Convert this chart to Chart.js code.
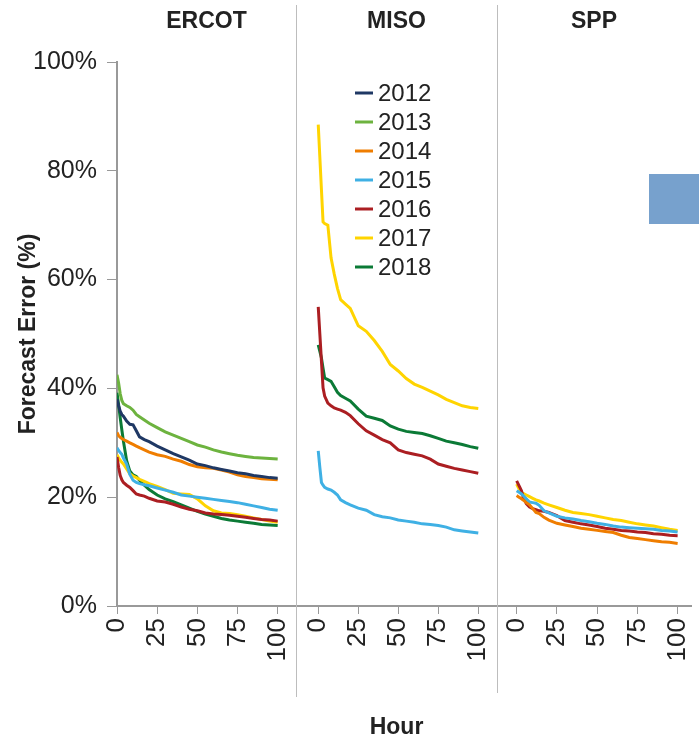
<!DOCTYPE html>
<html>
<head>
<meta charset="utf-8">
<script src="https://cdn.jsdelivr.net/npm/chart.js@4.4.1/dist/chart.umd.min.js"></script>
<style>
  body { margin: 0; background: #fff; width: 699px; height: 741px; overflow: hidden; position: relative; }
  .panel { position: absolute; top: 0; height: 741px; }
  .divider { position: absolute; width: 1px; background: #bdbdbd; }
  #badge { position: absolute; left: 649px; top: 174px; width: 50px; height: 50px; background: #77a1cd; }
</style>
</head>
<body>
<div class="panel" style="left:0;width:296px"><canvas id="ercot"></canvas></div>
<div class="panel" style="left:296px;width:201px"><canvas id="miso"></canvas></div>
<div class="panel" style="left:497px;width:202px"><canvas id="spp"></canvas></div>
<div class="divider" style="left:296px;top:5px;height:692px"></div>
<div class="divider" style="left:497px;top:5px;height:688px"></div>
<div id="badge"></div>
<script>
// hours (same grid for every line)
const hours = [0, 1, 2, 3, 4, 6, 8, 10, 12, 14, 17, 20, 25, 30, 35, 40, 45, 50, 55, 60, 65, 70, 75, 80, 85, 90, 95, 100];
const years = ['2012', '2013', '2014', '2015', '2016', '2017', '2018'];
const yearColors = ['#1f3864', '#6db33f', '#ef7d00', '#3fb0e4', '#ab1e22', '#ffd400', '#0b7a36'];
const hourTicks = [0, 25, 50, 75, 100];
const pctTicks = [0, 20, 40, 60, 80, 100];
const panelNames = ['ERCOT', 'MISO', 'SPP'];

// ERCOT, forecast error %
const ercot2012 = [38.0, 36.8, 35.8, 35.2, 34.9, 34.0, 33.4, 33.3, 32.2, 31.1, 30.6, 30.2, 29.4, 28.7, 28.0, 27.4, 26.8, 26.1, 25.8, 25.4, 25.1, 24.8, 24.5, 24.3, 24.0, 23.8, 23.6, 23.5];
const ercot2013 = [42.5, 41.0, 39.0, 37.8, 37.2, 36.8, 36.5, 36.0, 35.2, 34.8, 34.2, 33.6, 32.8, 32.0, 31.4, 30.8, 30.2, 29.6, 29.2, 28.7, 28.3, 28.0, 27.7, 27.5, 27.3, 27.2, 27.1, 27.0];
const ercot2014 = [31.9, 31.3, 31.0, 30.8, 30.6, 30.3, 30.0, 29.7, 29.4, 29.1, 28.7, 28.3, 27.8, 27.5, 27.0, 26.6, 26.0, 25.6, 25.4, 25.3, 25.0, 24.6, 24.1, 23.8, 23.6, 23.4, 23.3, 23.2];
const ercot2015 = [29.1, 28.6, 28.2, 27.9, 27.2, 26.1, 24.2, 23.1, 22.7, 22.5, 22.3, 22.1, 21.7, 21.3, 20.9, 20.4, 20.2, 20.0, 19.8, 19.6, 19.4, 19.2, 19.0, 18.7, 18.4, 18.1, 17.8, 17.6];
const ercot2016 = [27.4, 25.5, 24.0, 23.2, 22.7, 22.2, 21.8, 21.2, 20.6, 20.4, 20.2, 19.8, 19.3, 19.1, 18.7, 18.2, 17.8, 17.5, 17.1, 16.9, 16.8, 16.7, 16.5, 16.3, 16.1, 15.9, 15.8, 15.6];
const ercot2017 = [27.8, 27.2, 26.8, 26.4, 26.1, 25.2, 24.3, 23.9, 23.6, 23.3, 22.9, 22.5, 22.0, 21.4, 20.7, 20.6, 20.5, 19.7, 18.4, 17.5, 17.1, 17.0, 16.8, 16.5, 16.2, 15.9, 15.6, 15.4];
const ercot2018 = [39.2, 37.0, 34.6, 32.4, 30.3, 26.7, 24.8, 24.1, 23.8, 23.1, 22.2, 21.4, 20.4, 19.7, 19.2, 18.6, 18.0, 17.4, 16.9, 16.5, 16.1, 15.8, 15.6, 15.4, 15.2, 15.0, 14.9, 14.8];

// MISO
const miso2015 = [28.5, 25.5, 22.7, 22.2, 21.8, 21.5, 21.3, 20.9, 20.4, 19.5, 19.0, 18.6, 18.0, 17.6, 16.8, 16.4, 16.2, 15.8, 15.6, 15.4, 15.1, 15.0, 14.8, 14.5, 14.0, 13.8, 13.6, 13.4];
const miso2016 = [55.0, 50.0, 45.0, 40.1, 38.6, 37.3, 36.8, 36.4, 36.2, 36.0, 35.6, 35.0, 33.5, 32.2, 31.4, 30.6, 30.0, 28.7, 28.2, 27.9, 27.6, 27.0, 26.1, 25.7, 25.3, 25.0, 24.7, 24.4];
const miso2017 = [88.5, 82.5, 76.5, 70.6, 70.3, 70.0, 64.0, 61.0, 58.4, 56.3, 55.5, 54.7, 51.5, 50.5, 48.8, 46.8, 44.4, 43.2, 41.8, 40.8, 40.2, 39.5, 38.8, 38.0, 37.4, 36.8, 36.5, 36.3];
const miso2018 = [48.0, 46.8, 45.6, 43.7, 41.9, 41.6, 41.3, 40.3, 39.3, 38.7, 38.2, 37.7, 36.2, 34.9, 34.5, 34.1, 33.1, 32.5, 32.1, 31.9, 31.7, 31.3, 30.8, 30.3, 30.0, 29.7, 29.3, 29.0];

// SPP
const spp2014 = [20.3, 20.1, 19.9, 19.7, 19.5, 19.0, 18.6, 17.9, 17.2, 17.0, 16.3, 15.8, 15.2, 14.9, 14.6, 14.3, 14.1, 13.9, 13.7, 13.5, 13.0, 12.6, 12.4, 12.2, 12.0, 11.8, 11.7, 11.5];
const spp2015 = [21.2, 21.0, 20.8, 20.6, 20.3, 19.7, 19.1, 19.0, 18.9, 18.5, 17.5, 17.1, 16.5, 16.2, 16.0, 15.7, 15.5, 15.2, 15.0, 14.7, 14.5, 14.4, 14.3, 14.2, 14.1, 13.9, 13.8, 13.6];
const spp2016 = [23.0, 22.4, 21.8, 21.2, 20.1, 18.8, 18.2, 17.9, 17.7, 17.5, 17.4, 17.2, 16.6, 15.7, 15.4, 15.1, 14.9, 14.6, 14.3, 14.1, 13.9, 13.8, 13.6, 13.5, 13.3, 13.2, 13.0, 12.9];
const spp2017 = [22.4, 21.8, 21.3, 20.9, 20.7, 20.4, 20.1, 19.8, 19.5, 19.3, 18.9, 18.6, 18.1, 17.6, 17.2, 17.0, 16.8, 16.5, 16.2, 15.9, 15.7, 15.4, 15.1, 14.9, 14.7, 14.4, 14.1, 13.9];

const panelSeries = [
  { '2012': ercot2012, '2013': ercot2013, '2014': ercot2014, '2015': ercot2015, '2016': ercot2016, '2017': ercot2017, '2018': ercot2018 },
  { '2015': miso2015, '2016': miso2016, '2017': miso2017, '2018': miso2018 },
  { '2014': spp2014, '2015': spp2015, '2016': spp2016, '2017': spp2017 }
];

const fam = "'Liberation Sans', Arial, sans-serif";
const ink = '#222';
const axisGrey = '#999';

// legend drawn inside the MISO panel
const yearLegend = {
  id: 'yearLegend',
  afterDraw(chart, args, opts) {
    if (!opts.show) return;
    const ctx = chart.ctx;
    const a = chart.chartArea;
    ctx.save();
    ctx.font = "24px " + fam;
    ctx.textBaseline = 'middle';
    chart.data.datasets.forEach((ds, i) => {
      const y = a.top + opts.top + i * opts.step;
      const x = a.left + opts.left;
      ctx.strokeStyle = ds.borderColor;
      ctx.lineWidth = 3;
      ctx.beginPath();
      ctx.moveTo(x, y);
      ctx.lineTo(x + 18, y);
      ctx.stroke();
      ctx.fillStyle = ink;
      ctx.fillText(ds.label, x + 23, y + 1);
    });
    ctx.restore();
  }
};

function makePanel(canvasId, idx, xMin, xMax) {
  const series = panelSeries[idx];
  const datasets = years.map((yr, i) => ({
    label: yr,
    data: (series[yr] || []).map((v, j) => ({ x: hours[j], y: v })),
    borderColor: yearColors[i],
    backgroundColor: yearColors[i],
    borderWidth: 3,
    pointRadius: 0,
    fill: false,
    tension: 0
  }));

  new Chart(document.getElementById(canvasId), {
    type: 'line',
    data: { datasets: datasets },
    options: {
      responsive: true,
      maintainAspectRatio: false,
      animation: false,
      layout: { padding: { top: 0, left: 0, right: idx == 2 ? 8 : 0, bottom: 0 } },
      plugins: {
        legend: { display: false },
        tooltip: { enabled: false },
        title: {
          display: true,
          text: panelNames[idx],
          fullSize: false,
          color: ink,
          font: { family: fam, size: 23, weight: 'bold' },
          padding: { top: 8, bottom: 26.4 }
        },
        yearLegend: { show: idx == 1, left: 59, top: 31, step: 29 }
      },
      scales: {
        x: {
          type: 'linear',
          min: xMin,
          max: xMax,
          afterBuildTicks: (scale) => { scale.ticks = hourTicks.map(v => ({ value: v })); },
          afterFit: (scale) => {
            scale.height = 135;
            // labels sit inside the panel, so no extra side room is needed
            scale.paddingLeft = 0;
            scale.paddingRight = 0;
          },
          grid: { drawOnChartArea: false, tickLength: 8, color: axisGrey },
          border: { color: axisGrey, width: 2 },
          ticks: { minRotation: 90, maxRotation: 90, autoSkip: false, color: ink, font: { family: fam, size: 26 }, padding: 4 },
          title: {
            display: idx == 1,
            text: 'Hour',
            color: ink,
            font: { family: fam, size: 23, weight: 'bold' },
            padding: 0
          }
        },
        y: {
          display: idx == 0,
          min: 0,
          max: 100,
          afterBuildTicks: (scale) => { scale.ticks = pctTicks.map(v => ({ value: v })); },
          afterFit: (scale) => { if (idx == 0) scale.width = 117; },
          grid: { drawOnChartArea: false, tickLength: 10, color: axisGrey },
          border: { color: axisGrey, width: 2 },
          ticks: { color: ink, font: { family: fam, size: 25 }, padding: 10, callback: (v) => v + '%' },
          title: {
            display: true,
            text: 'Forecast Error (%)',
            color: ink,
            font: { family: fam, size: 23, weight: 'bold' },
            padding: { top: 15, bottom: 0 }
          }
        }
      }
    },
    plugins: [yearLegend]
  });
}

makePanel('ercot', 0, 0, 111.4);
makePanel('miso', 1, -13.9, 111.7);
makePanel('spp', 2, -12.2, 108.3);
</script>
</body>
</html>
